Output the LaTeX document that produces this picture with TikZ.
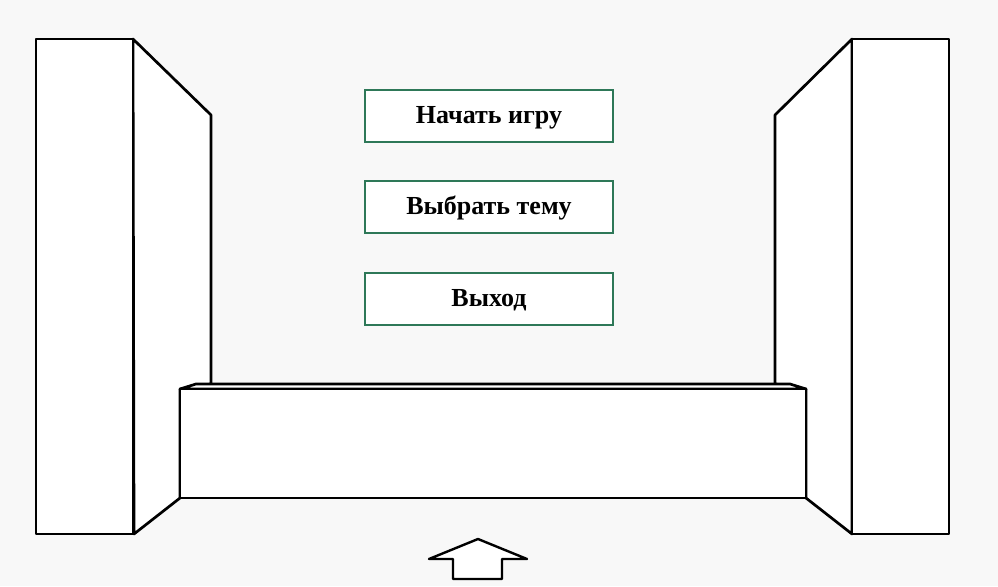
\documentclass[tikz,border=0pt]{standalone}
\usepackage{fontspec}
\setmainfont{Liberation Serif}
\definecolor{bg}{HTML}{F8F8F8}
\definecolor{btngreen}{RGB}{46,120,88}
\tikzset{
  wall/.style={draw=black, line width=2.7pt, fill=white, line join=round},
  btn/.style={draw=btngreen, line width=1.4pt, fill=white, minimum width=248pt, minimum height=52pt, inner sep=0pt, text height=18pt, text depth=4pt, font=\fontsize{26}{30}\selectfont\bfseries},
}
\begin{document}
\begin{tikzpicture}[x=1pt, y=-1pt]
\useasboundingbox (0,0) rectangle (998,586);
\fill[bg] (0,0) rectangle (998,586);
% left side wall
\draw[wall] (133,39) -- (211,115) -- (211,384) -- (180,389) -- (180,498) -- (134,534) -- cycle;
% right side wall
\draw[wall] (852,39) -- (775,115) -- (775,384) -- (806,389) -- (806,498) -- (852,534) -- cycle;
% left panel
\draw[wall] (36,39) rectangle (133,534);
% right panel
\draw[wall] (852,39) rectangle (949,534);
% counter top
\draw[wall] (180,389) -- (196,384) -- (790,384) -- (806,389) -- cycle;
% counter front
\draw[wall] (180,389) rectangle (806,498);
% buttons
\node[btn] (start) at (489,116) {Начать игру};
\node[btn] (theme) at (489,207) {Выбрать тему};
\node[btn] (exit) at (489,299) {Выход};
% arrow
\draw[wall, line width=2.4pt] (478,539) -- (527,559) -- (502,559) -- (502,579) -- (453,579) -- (453,559) -- (429,559) -- cycle;
\end{tikzpicture}
\end{document}
